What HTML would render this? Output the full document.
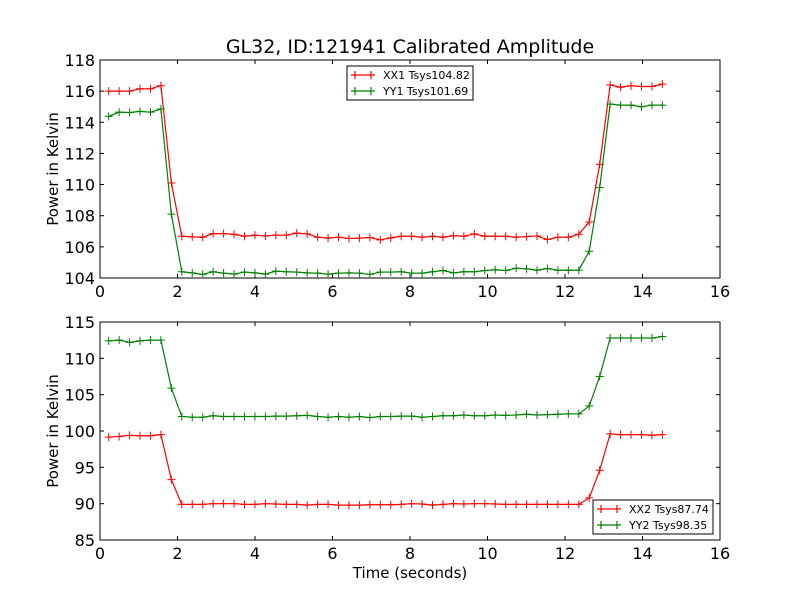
<!DOCTYPE html>
<html><head><meta charset="utf-8"><style>
body{margin:0;background:#fff}
svg{display:block;font-family:"DejaVu Sans","Liberation Sans",sans-serif}
</style></head><body>
<svg id="chart" width="800" height="600" viewBox="0 0 800 600">
<rect x="0" y="0" width="800" height="600" fill="#fff"/>
<text x="410" y="53" font-size="19" text-anchor="middle">GL32, ID:121941 Calibrated Amplitude</text>
<g id="p1"></g><g id="p2"></g>
<text x="410" y="578" font-size="15" text-anchor="middle">Time (seconds)</text>
</svg>
<script>
const xTicks=[0,2,4,6,8,10,12,14,16];
const yTicks1=[104,106,108,110,112,114,116,118];
const yTicks2=[85,90,95,100,105,110,115];
const t0=0.224, dt=0.2696, nPts=54;
const xx1=[116.0,116.0,116.0,116.15,116.15,116.35,110.1,106.68,106.64,106.62,106.85,106.85,106.81,106.68,106.75,106.70,106.75,106.75,106.88,106.83,106.62,106.56,106.62,106.54,106.56,106.60,106.45,106.58,106.68,106.68,106.62,106.68,106.62,106.72,106.68,106.83,106.68,106.68,106.68,106.62,106.66,106.70,106.47,106.62,106.62,106.81,107.6,111.3,116.4,116.25,116.35,116.3,116.3,116.45];
const yy1=[114.38,114.65,114.63,114.7,114.65,114.85,108.1,104.40,104.33,104.23,104.40,104.31,104.25,104.38,104.33,104.25,104.44,104.40,104.38,104.33,104.31,104.25,104.31,104.33,104.31,104.23,104.38,104.38,104.40,104.31,104.31,104.40,104.48,104.33,104.40,104.40,104.48,104.53,104.48,104.63,104.59,104.50,104.61,104.50,104.50,104.50,105.72,109.8,115.17,115.1,115.1,115.0,115.1,115.1];
const xx2=[99.15,99.25,99.4,99.35,99.35,99.5,93.3,89.9,89.9,89.9,90.0,90.0,90.0,89.9,89.9,90.0,89.95,89.9,89.9,89.8,89.9,89.9,89.8,89.8,89.8,89.85,89.85,89.85,89.9,90.0,89.95,89.8,89.9,90.0,89.95,90.0,90.0,89.95,89.9,89.9,89.9,89.9,89.9,89.9,89.9,89.9,90.8,94.6,99.6,99.5,99.5,99.5,99.4,99.5];
const yy2=[112.4,112.5,112.2,112.4,112.5,112.5,105.9,102.0,101.9,101.9,102.1,102.0,102.0,102.0,102.0,102.0,102.05,102.05,102.1,102.15,102.0,101.9,102.0,101.9,102.0,101.85,102.0,102.0,102.05,102.05,101.9,102.0,102.1,102.1,102.2,102.1,102.1,102.2,102.15,102.2,102.3,102.2,102.25,102.3,102.35,102.35,103.45,107.5,112.8,112.8,112.8,112.8,112.8,113.0];
const times=[];for(let i=0;i<nPts;i++)times.push(t0+i*dt);
const NS="http://www.w3.org/2000/svg";
function mk(p,tag,at){const e=document.createElementNS(NS,tag);for(const k in at)e.setAttribute(k,at[k]);p.appendChild(e);return e;}
function panel(g,top,yTicks,series,legend){
  const L=100,R=720,T=top,B=top+218;
  const x0=0,x1=16,y0=yTicks[0],y1=yTicks[yTicks.length-1];
  const sx=v=>L+(v-x0)/(x1-x0)*(R-L), sy=v=>B-(v-y0)/(y1-y0)*(B-T);
  const ax=mk(g,'g',{});
  
  
  for(const v of xTicks){const x=sx(v);
    mk(ax,'line',{x1:x,x2:x,y1:B,y2:B-4,stroke:'#000'});mk(ax,'line',{x1:x,x2:x,y1:T,y2:T+4,stroke:'#000'});
    const tx=mk(ax,'text',{x:x,y:B+19,'font-size':16,'text-anchor':'middle'});tx.textContent=v;
    
    }
  for(const v of yTicks){const y=sy(v);
    mk(ax,'line',{x1:L,x2:L+4,y1:y,y2:y,stroke:'#000'});mk(ax,'line',{x1:R,x2:R-4,y1:y,y2:y,stroke:'#000'});
    const tx=mk(ax,'text',{x:L-5,y:y+6,'font-size':16,'text-anchor':'end'});tx.textContent=v;
    
    }
  const yl=mk(g,'text',{x:0,y:0,'font-size':15,'text-anchor':'middle',transform:`translate(58,${(T+B)/2}) rotate(-90)`});yl.textContent='Power in Kelvin';
  
  
  for(const s of series){
    const sg=mk(g,'g',{});
    
    
    mk(sg,'polyline',{points:s.vals.map((v,i)=>sx(times[i])+','+sy(v)).join(' '),fill:'none',stroke:s.c,'stroke-width':1.2});
    s.vals.forEach((v,i)=>{const x=sx(times[i]),y=sy(v);
      const m=mk(sg,'path',{d:`M${x-4} ${y}H${x+4}M${x} ${y-4}V${y+4}`,stroke:s.c,'stroke-width':1});
      
      });
  }
  mk(ax,'rect',{x:L,y:T,width:R-L,height:B-T,fill:'none',stroke:'#000','stroke-width':1});
  const lg=mk(g,'g',{});
  
  
  mk(lg,'rect',{x:legend.x,y:legend.y,width:legend.w,height:34,fill:'#fff',stroke:'#000','stroke-width':1});
  series.forEach((s,k)=>{const y=legend.y+9+k*16;
    mk(lg,'path',{d:`M${legend.x+4} ${y}H${legend.x+28}M${legend.x+8} ${y-4}V${y+4}M${legend.x+24} ${y-4}V${y+4}`,stroke:s.c,'stroke-width':1.2});
    const tx=mk(lg,'text',{x:legend.x+36,y:y+4,'font-size':11});tx.textContent=s.label;
    
    });
}
panel(document.getElementById('p1'),60,yTicks1,[{name:'XX1',vals:xx1,c:'#ff0000',label:'XX1 Tsys104.82'},{name:'YY1',vals:yy1,c:'#008000',label:'YY1 Tsys101.69'}],{x:347,y:66,w:126});
panel(document.getElementById('p2'),322,yTicks2,[{name:'XX2',vals:xx2,c:'#ff0000',label:'XX2 Tsys87.74'},{name:'YY2',vals:yy2,c:'#008000',label:'YY2 Tsys98.35'}],{x:593,y:500,w:120});
</script>
</body></html>
